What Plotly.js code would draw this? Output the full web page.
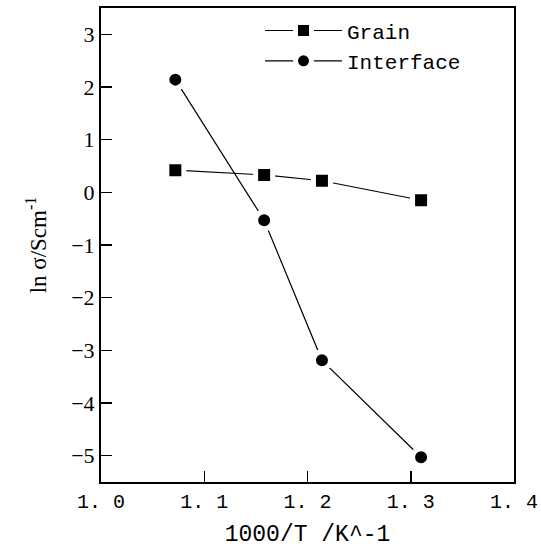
<!DOCTYPE html>
<html><head><meta charset="utf-8">
<script src="https://cdn.plot.ly/plotly-3.0.1.min.js"></script>
<style>body{margin:0;background:#fff}#c{width:541px;height:550px}</style>
</head><body><div id="c"></div>
<script>
const grainX = [1.072, 1.158, 1.214, 1.310];
const grainY = [0.42, 0.33, 0.22, -0.15];
const interfaceX = [1.072, 1.158, 1.214, 1.310];
const interfaceY = [2.14, -0.53, -3.19, -5.03];
const xTickVals = [1.0, 1.1, 1.2, 1.3, 1.4];
const xTickText = ['1. 0', '1. 1', '1. 2', '1. 3', '1. 4'];
const yTickVals = [-5, -4, -3, -2, -1, 0, 1, 2, 3];
const yTickText = ['\u22125', '\u22124', '\u22123', '\u22122', '\u22121', '0', '1', '2', '3'];

const mono = 'Liberation Mono, DejaVu Sans Mono, monospace';
const serif = 'Liberation Serif, serif';
const traces = [
  {x: grainX, y: grainY, name: 'Grain', mode: 'lines+markers', type: 'scatter',
   line: {color: '#000', width: 1.2},
   marker: {symbol: 'square', size: 17, color: '#000', line: {color: '#fff', width: 5}}},
  {x: interfaceX, y: interfaceY, name: 'Interface', mode: 'lines+markers', type: 'scatter',
   line: {color: '#000', width: 1.2},
   marker: {symbol: 'circle', size: 17, color: '#000', line: {color: '#fff', width: 5}}}
];
const layout = {
  width: 541, height: 550,
  margin: {l: 101, r: 27, t: 8, b: 68},
  paper_bgcolor: '#fff', plot_bgcolor: '#fff',
  font: {family: mono, color: '#000', size: 20},
  showlegend: true,
  legend: {x: 0.385, y: 0.995, xanchor: 'left', yanchor: 'top', bgcolor: 'rgba(0,0,0,0)',
           font: {family: mono, size: 21, color: '#000'},
           tracegroupgap: 0, itemwidth: 77},
  xaxis: {range: [1.0, 1.4], tickvals: xTickVals, ticktext: xTickText,
          ticks: 'inside', ticklen: 11, tickwidth: 1.5, tickcolor: '#000',
          showline: true, linecolor: '#000', linewidth: 2, mirror: true,
          showgrid: false, zeroline: false,
          tickfont: {family: mono, size: 20, color: '#000'},
          title: {text: '1000/T /K^-1', standoff: 12,
                  font: {family: mono, size: 23, color: '#000'}}},
  yaxis: {range: [-5.5, 3.5], tickvals: yTickVals, ticktext: yTickText,
          ticks: 'inside', ticklen: 11, tickwidth: 1.5, tickcolor: '#000',
          showline: true, linecolor: '#000', linewidth: 2, mirror: true,
          showgrid: false, zeroline: false,
          tickfont: {family: serif, size: 22, color: '#000'},
          title: {text: 'ln \u03c3/Scm<sup>-1</sup>', standoff: 18,
                  font: {family: serif, size: 23, color: '#000'}}}
};
Plotly.newPlot('c', traces, layout, {staticPlot: true, displayModeBar: false});
</script></body></html>
